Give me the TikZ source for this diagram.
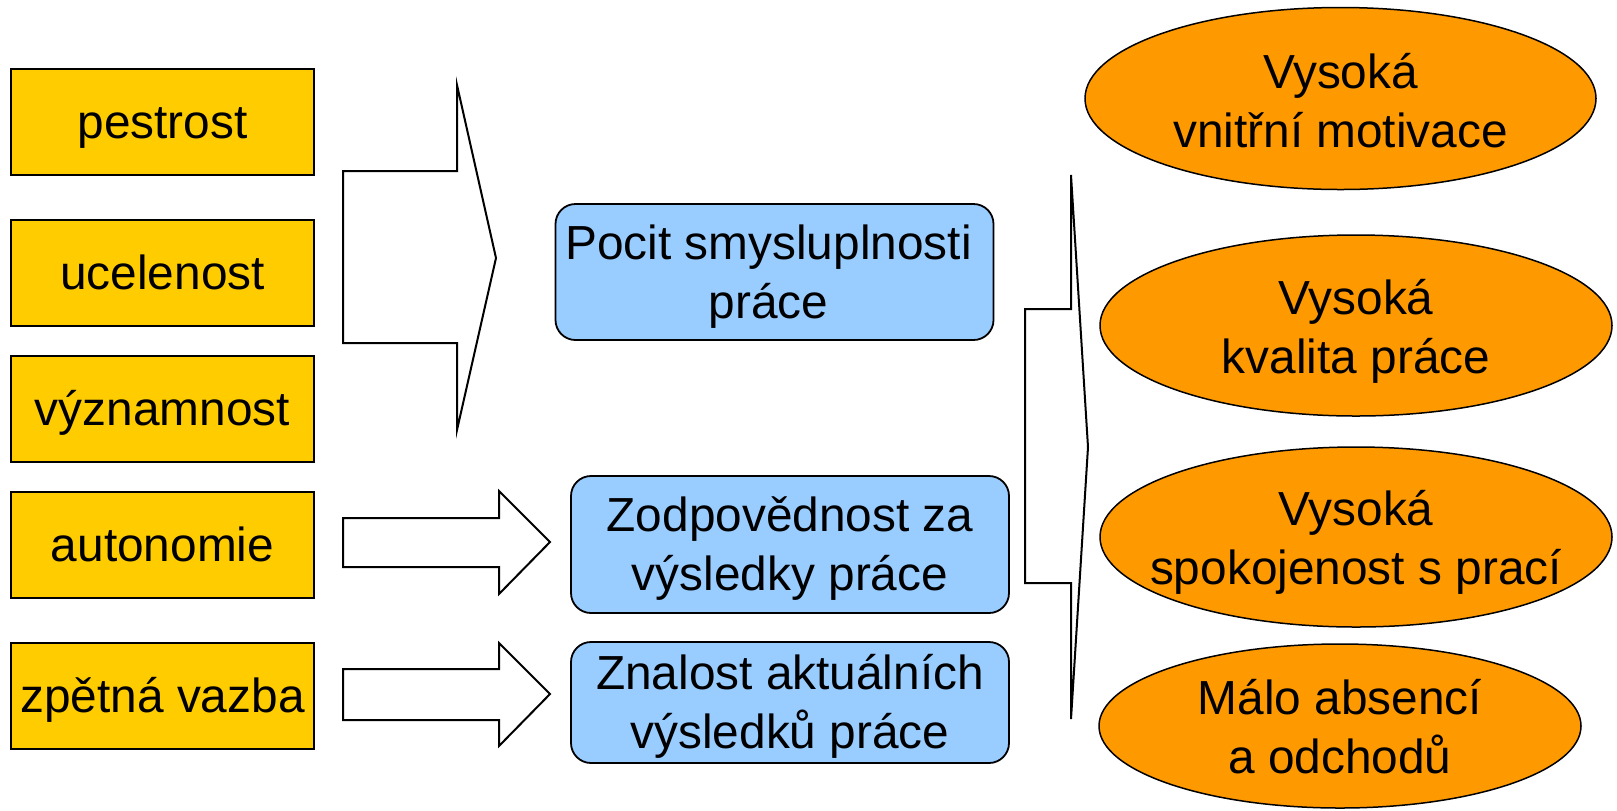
\documentclass[tikz,border=0pt]{standalone}
\usepackage{fontspec}
\setmainfont{Liberation Sans}
\definecolor{factoryellow}{HTML}{FFCC00}
\definecolor{stateblue}{HTML}{99CCFF}
\definecolor{outcomeorange}{HTML}{FF9900}
% strut with the ascent and descent of the font, as the slides use
\newcommand\linestrut{\rule[-0.212em]{0pt}{1.117em}}
\begin{document}
\begin{tikzpicture}
 	[x=0.5pt,y=-0.5pt,
 	every node/.style={font=\fontsize{23.9}{29.5}\selectfont},
 	factor/.style={draw,line width=1pt,fill=factoryellow,minimum width=151.5pt,minimum height=53pt,inner sep=0pt},
 	state/.style={draw,line width=0.9pt,fill=stateblue,rounded corners=10pt,minimum width=219pt,align=center,inner sep=0pt},
 	outcome/.style={draw,line width=0.75pt,fill=outcomeorange},
 	goal/.style={align=center,inner sep=0pt},
 	blockarrow/.style={draw,line width=1pt,fill=white,line join=miter}]
 	\useasboundingbox (0,0) rectangle (1617,810);
 	% job characteristics
 	\node[factor] (pestrost) at (162.5,122) {\linestrut pestrost};
 	\node[factor] (ucelenost) at (162.5,273) {\linestrut ucelenost};
 	\node[factor] (vyznamnost) at (162.5,409) {\linestrut významnost};
 	\node[factor] (autonomie) at (162.5,545) {\linestrut autonomie};
 	\node[factor] (vazba) at (162.5,696) {\linestrut zpětná vazba};
 	% psychological states
 	\node[state,minimum height=68pt] (smysl) at (774.5,272) {\linestrut Pocit smysluplnosti\kern6pt\\práce\kern6pt\linestrut};
 	\node[state,minimum height=68.5pt] (zodpovednost) at (790,544.5) {\linestrut Zodpovědnost za\\výsledky práce\linestrut};
 	\node[state,minimum height=60.5pt] (znalost) at (790,702.5) {\linestrut Znalost aktuálních\\výsledků práce\linestrut};
 	% block arrows
 	\draw[blockarrow] (343,171) -- (457,171) -- (457,85) -- (496,258) -- (457,430) -- (457,343) -- (343,343) -- cycle;
 	\draw[blockarrow] (343,518) -- (499,518) -- (499,491) -- (550,542) -- (499,594) -- (499,567) -- (343,567) -- cycle;
 	\draw[blockarrow] (343,669) -- (499,669) -- (499,643) -- (550,694) -- (499,746) -- (499,720) -- (343,720) -- cycle;
 	\draw[blockarrow] (1025,309) -- (1071,309) -- (1071,175) -- (1088,447) -- (1071,719) -- (1071,583) -- (1025,583) -- cycle;
 	% outcomes
 	\draw[outcome] (1340.5,98.5) ellipse [x radius=127.75pt, y radius=45.5pt];
 	\draw[outcome] (1356,325.5) ellipse [x radius=128pt, y radius=45.25pt];
 	\draw[outcome] (1356,537) ellipse [x radius=128pt, y radius=45pt];
 	\draw[outcome] (1340,726) ellipse [x radius=120.5pt, y radius=41pt];
 	\node[goal] (motivace) at (1340.5,101) {\linestrut Vysoká\\vnitřní motivace\linestrut};
 	\node[goal] (kvalita) at (1356,327) {\linestrut Vysoká\\kvalita práce\linestrut};
 	\node[goal] (spokojenost) at (1356,538) {\linestrut Vysoká\\spokojenost s prací\linestrut};
 	\node[goal] (absence) at (1340,727) {\linestrut Málo absencí\\a odchodů\linestrut};
\end{tikzpicture}
\end{document}
